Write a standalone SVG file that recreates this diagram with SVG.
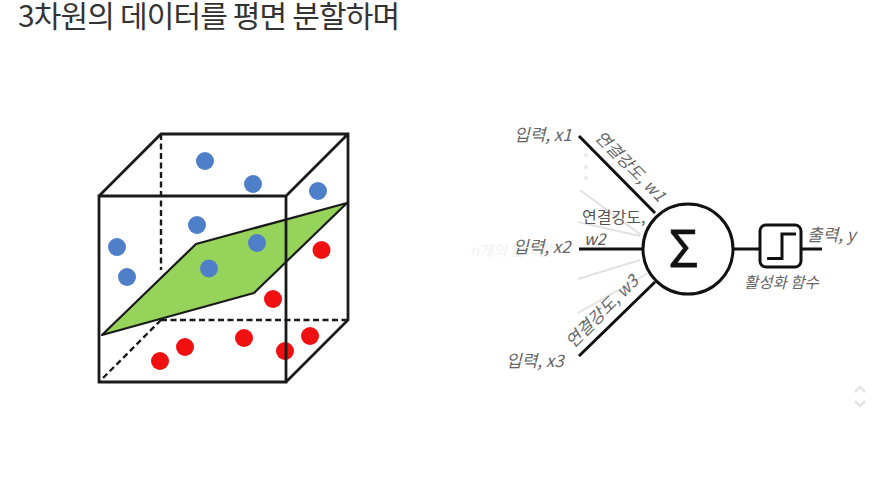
<svg xmlns="http://www.w3.org/2000/svg" width="878" height="483" viewBox="0 0 878 483">
<style>
text{font-family:"Noto Sans CJK KR","Noto Sans",sans-serif}
.lb{font-size:17px;font-style:italic;fill:#666}
.cube{fill:none;stroke:#1a1a1a;stroke-width:2.800}
.dash{fill:none;stroke:#1a1a1a;stroke-width:2.400;stroke-dasharray:6 3.500}
.b{fill:#4f7fc8}
.r{fill:#f01010}
.w{fill:none;stroke:#111;stroke-width:3}
.f{fill:none;stroke:#e2e2e2;stroke-width:2}
</style>
<rect width="878" height="483" fill="#fff"/>
<text id="title" x="18" y="27" font-size="30" letter-spacing="-0.85" fill="#333">3차원의 데이터를 평면 분할하며</text>
<g id="cube">
<path class="dash" d="M161 134V270M161 320H348M161 320L99 382"/>
<g id="blue-back">
<circle class="b" cx="205" cy="161" r="9"/><circle class="b" cx="253" cy="184" r="9"/><circle class="b" cx="318" cy="191" r="9"/><circle class="b" cx="197" cy="225" r="9"/><circle class="b" cx="117" cy="247" r="9"/><circle class="b" cx="127" cy="277" r="9"/>
</g>
<g id="red">
<circle class="r" cx="321.500" cy="250" r="9"/><circle class="r" cx="273" cy="299" r="9"/><circle class="r" cx="244" cy="338" r="9"/><circle class="r" cx="310" cy="336" r="9"/><circle class="r" cx="285" cy="351" r="9"/><circle class="r" cx="185" cy="347" r="9"/><circle class="r" cx="160" cy="361" r="9"/>
</g>
<polygon points="102,335 196,244 347,203 254,293" fill="#96d35a" stroke="#1a1a1a" stroke-width="2.200" stroke-linejoin="round"/>
<circle class="b" cx="257" cy="243" r="9"/><circle class="b" cx="209" cy="268.500" r="9"/>
<path class="cube" d="M99 196H286V382H99ZM99 196L161 134H348V320L286 382M286 196L348 134"/>
</g>
<g id="connectors">
<path class="f" d="M580 190L641 235M578 222L640 236M578 279L640 260M578 313L650 272"/>
<path d="M586 153v4M586 165v4M586 176v4" stroke="#e8e8e8" stroke-width="3" fill="none"/>
<path class="w" d="M579 136L655 213M579 249H642M579 356L655 282M733 249H760M801 249H822"/>
</g>
<text x="470" y="256" font-size="15" font-style="italic" fill="#f1f1f1">n개의 입력값</text>
<g id="sum">
<circle cx="688" cy="249" r="45" fill="#fff" stroke="#111" stroke-width="3"/>
<text x="683.500" y="267" font-size="50" text-anchor="middle" fill="#111" stroke="#111" stroke-width="0.800" font-family="Liberation Sans">Σ</text>
</g>
<g id="activation">
<rect x="760" y="225" width="41" height="42" rx="6" fill="#fff" stroke="#111" stroke-width="3"/>
<path d="M767 258.500H782V234H796" fill="none" stroke="#111" stroke-width="3"/>
<text x="744" y="288" font-size="15.500" font-style="italic" fill="#666">활성화 함수</text>
</g>
<g id="labels">
<text class="lb" x="514" y="141">입력, x1</text>
<text class="lb" x="513" y="253">입력, x2</text>
<text class="lb" x="506" y="367">입력, x3</text>
<text class="lb" x="807" y="241">출력, y</text>
<text x="582" y="223" font-size="16" fill="#555">연결강도,</text>
<text x="584" y="245" font-size="16" font-style="italic" fill="#555">w2</text>
<text class="lb" transform="translate(594 138) rotate(45)" style="font-size:16.500px">연결강도, w1</text>
<text class="lb" transform="translate(573 349) rotate(-45)" style="font-size:17px">연결강도, w3</text>
</g>
<path d="M855 392L860 387L865 392M855 401L860 406L865 401" fill="none" stroke="#e4e4e4" stroke-width="2.500"/>
</svg>
